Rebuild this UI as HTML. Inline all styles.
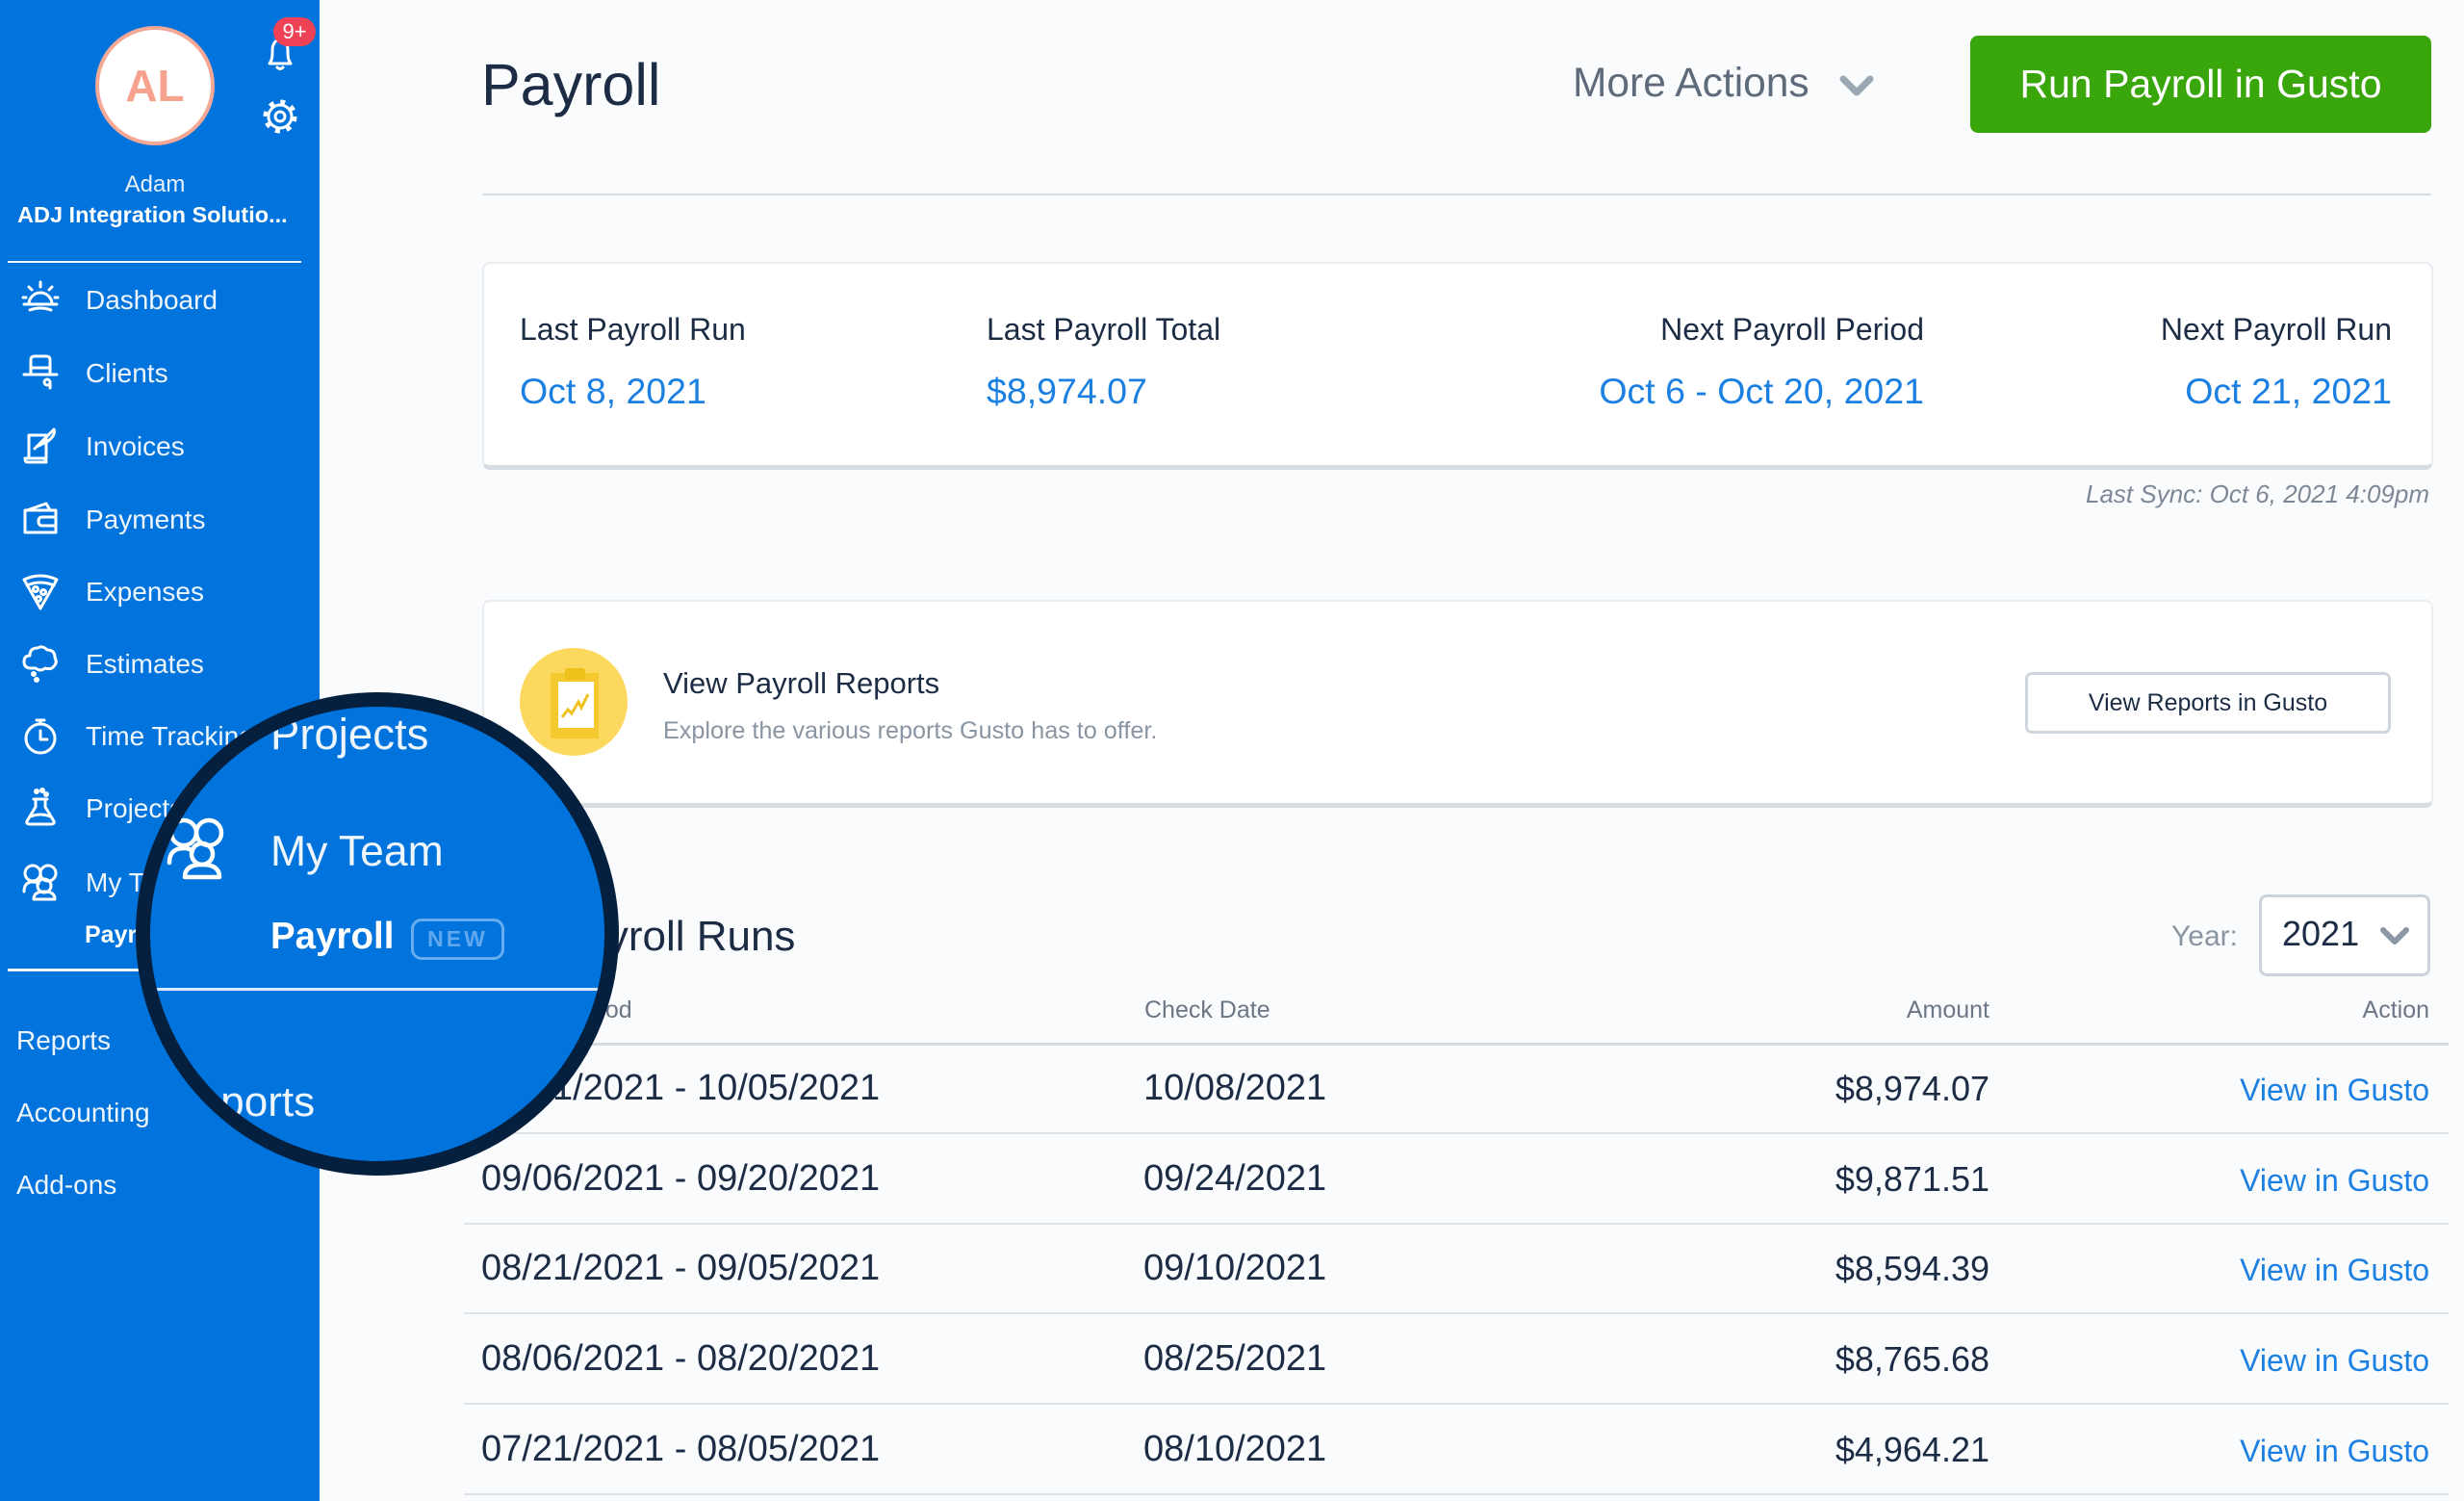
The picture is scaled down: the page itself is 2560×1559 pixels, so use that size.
<!DOCTYPE html>
<html><head><meta charset="utf-8">
<style>
*{margin:0;padding:0;box-sizing:border-box}
html,body{width:2560px;height:1559px;overflow:hidden}
body{background:#fafbfd;font-family:"Liberation Sans",sans-serif;position:relative;color:#1b2c44}
.a{position:absolute;white-space:nowrap;line-height:1}
.nav{font-size:28px;color:#eef5fd;left:89px}
.sub{font-size:28px;color:#eef5fd;left:17px}
.lbl{font-size:32px;color:#1b2c44;top:326px}
.val{font-size:37.5px;color:#1b80e1;top:388px}
.th{font-size:25px;color:#6b7785;top:1037px}
.per{font-size:38px;color:#1b2c44;left:500px}
.dt{font-size:38px;color:#1b2c44;left:1188px}
.amt{font-size:36px;color:#1b2c44;right:493px}
.lnk{font-size:32px;color:#1b80e1;right:36px}
.hl{position:absolute;left:482px;width:2062px;height:2px;background:#dfe3e8}
.card{position:absolute;left:501px;width:2027px;background:#fff;border:2px solid #e9ecf0;border-bottom:5px solid #d6dce2;border-radius:8px}
</style></head>
<body>

<!-- Sidebar -->
<div style="position:absolute;left:0;top:0;width:332px;height:1559px;background:#0074dc"></div>

<!-- avatar -->
<div style="position:absolute;left:99px;top:27px;width:124px;height:124px;border-radius:50%;background:#fff;border:4px solid #f5a896;display:flex;align-items:center;justify-content:center;font-weight:bold;font-size:46px;color:#f6a28f;font-family:'Liberation Sans',sans-serif">AL</div>

<svg style="position:absolute;left:0;top:0" width="332" height="1000" viewBox="0 0 332 1000">
  <g fill="none" stroke="#fff" stroke-width="3" stroke-linecap="round" stroke-linejoin="round">
    <!-- bell -->
    <path d="M280 66 C283 62 283 58 283 52 C283 45 287 41 291 41 C295 41 299 45 299 52 C299 58 299 62 302 66 Z"/>
    <path d="M288 70 Q291 73 294 70"/>
    <!-- gear -->
    <circle cx="291" cy="121" r="12"/>
    <circle cx="291" cy="121" r="5"/>
    <circle cx="291" cy="121" r="15" stroke-width="5" stroke-dasharray="5 6.8" stroke-linecap="butt"/>
    <!-- Dashboard -->
    <g transform="translate(22,290)">
      <path d="M8 26 A12 12 0 0 1 32 26"/><path d="M3 26 H37"/><path d="M9 32 Q20 28 31 32"/>
      <path d="M20 3 V8"/><path d="M8 8 L11 11"/><path d="M32 8 L29 11"/><path d="M2 19 H5"/><path d="M35 19 H38"/>
    </g>
    <!-- Clients -->
    <g transform="translate(22,366)">
      <path d="M10 22 V8 Q10 4 14 4 H26 Q30 4 30 8 V22"/><path d="M3 23 H37"/><path d="M10 16 H30"/>
      <circle cx="27" cy="31" r="3"/><path d="M30 31 V37"/>
    </g>
    <!-- Invoices -->
    <g transform="translate(22,442)">
      <path d="M8 10 H26 V34 H8 Z"/><path d="M4 34 H22 Q26 34 26 38 H6 Q4 38 4 34"/><path d="M14 24 L34 4 Q36 10 28 16 L16 22"/>
    </g>
    <!-- Payments -->
    <g transform="translate(22,518)">
      <path d="M4 12 H36 V35 H4 Z"/><path d="M22 19 H36 V28 H22 Q18 28 18 23.5 Q18 19 22 19"/><path d="M6 12 L26 5 L30 12"/>
    </g>
    <!-- Expenses -->
    <g transform="translate(22,594)">
      <path d="M3 8 Q20 0 37 8 L20 38 Z"/><path d="M6 14 Q20 8 34 14"/><circle cx="15" cy="18" r="2.5"/><circle cx="23" cy="21" r="2.5"/><circle cx="18" cy="28" r="2.5"/>
    </g>
    <!-- Estimates -->
    <g transform="translate(22,668)">
      <path d="M10 26 Q3 26 3 19 Q3 13 9 13 Q9 5 17 5 Q22 2 27 7 Q35 7 35 15 Q38 20 34 24 Q31 28 25 26 Q20 30 15 26 Z"/>
      <circle cx="13" cy="32" r="1.5"/><circle cx="16" cy="38" r="1.5"/>
    </g>
    <!-- Time Tracking -->
    <g transform="translate(22,744)">
      <circle cx="20" cy="23" r="15"/><path d="M16 4 H24"/><path d="M20 4 V8"/><path d="M20 15 V24 H27"/>
    </g>
    <!-- Projects -->
    <g transform="translate(22,818)">
      <path d="M15 12 V20 L6 35 Q5 38 9 38 H31 Q35 38 34 35 L25 20 V12"/><path d="M13 12 H27"/><path d="M10 30 Q20 26 30 30"/>
      <circle cx="16" cy="4" r="1.5"/><circle cx="22" cy="3" r="1.5"/><circle cx="26" cy="7" r="1.5"/>
    </g>
    <!-- My Team -->
    <g transform="translate(22,896)">
      <circle cx="12" cy="11" r="8"/><circle cx="28" cy="11" r="8"/>
      <path d="M3 30 Q3 20 12 20 Q16 20 18 22"/><circle cx="24" cy="24" r="7"/><path d="M13 38 Q13 30 24 30 Q35 30 35 38 Z"/>
    </g>
  </g>
</svg>

<!-- notification badge -->
<div style="position:absolute;left:284px;top:18px;width:44px;height:30px;border-radius:15px;background:#ef4257;color:#fff;font-size:22px;line-height:30px;text-align:center">9+</div>

<div class="a" style="left:0;width:322px;text-align:center;top:180px;font-size:24px;color:#e8f1fc">Adam</div>
<div class="a" style="left:18px;top:212px;font-size:23.5px;font-weight:bold;color:#fff">ADJ Integration Solutio...</div>
<div style="position:absolute;left:8px;top:271px;width:305px;height:2px;background:#f2f7fd"></div>

<div class="a nav" style="top:298px">Dashboard</div>
<div class="a nav" style="top:374px">Clients</div>
<div class="a nav" style="top:450px">Invoices</div>
<div class="a nav" style="top:526px">Payments</div>
<div class="a nav" style="top:601px">Expenses</div>
<div class="a nav" style="top:676px">Estimates</div>
<div class="a nav" style="top:751px">Time Tracking</div>
<div class="a nav" style="top:826px">Projects</div>
<div class="a nav" style="top:903px">My Team</div>
<div class="a" style="left:88px;top:959px;font-size:25px;font-weight:bold;color:#fff">Payroll</div>
<div style="position:absolute;left:8px;top:1006px;width:305px;height:3px;background:#f2f7fd"></div>
<div class="a sub" style="top:1067px">Reports</div>
<div class="a sub" style="top:1142px">Accounting</div>
<div class="a sub" style="top:1217px">Add-ons</div>

<!-- Header -->
<div class="a" style="left:500px;top:58px;font-size:61px;color:#1b2c44">Payroll</div>
<div class="a" style="left:1634px;top:66px;font-size:42.5px;color:#5e6b7a">More Actions</div>
<svg style="position:absolute;left:1905px;top:74px" width="50" height="32"><polyline points="10,8 24,22 38,8" fill="none" stroke="#9ba7b3" stroke-width="7" stroke-linecap="round" stroke-linejoin="round"/></svg>
<div style="position:absolute;left:2047px;top:37px;width:479px;height:101px;border-radius:8px;background:#39a60b;color:#fff;font-size:41px;line-height:101px;text-align:center">Run Payroll in Gusto</div>
<div style="position:absolute;left:501px;top:201px;width:2025px;height:2px;background:#d8dde3"></div>

<!-- Summary card -->
<div class="card" style="top:272px;height:216px"></div>
<div class="a lbl" style="left:540px">Last Payroll Run</div>
<div class="a lbl" style="left:1025px">Last Payroll Total</div>
<div class="a lbl" style="right:561px">Next Payroll Period</div>
<div class="a lbl" style="right:75px">Next Payroll Run</div>
<div class="a val" style="left:540px">Oct 8, 2021</div>
<div class="a val" style="left:1025px">$8,974.07</div>
<div class="a val" style="right:561px">Oct 6 - Oct 20, 2021</div>
<div class="a val" style="right:75px">Oct 21, 2021</div>
<div class="a" style="right:36px;top:500px;font-size:26px;font-style:italic;color:#7d8896">Last Sync: Oct 6, 2021 4:09pm</div>

<!-- Reports card -->
<div class="card" style="top:623px;height:216px"></div>
<svg style="position:absolute;left:540px;top:673px" width="112" height="112" viewBox="0 0 112 112">
  <circle cx="56" cy="56" r="56" fill="#fcd95e"/>
  <rect x="32" y="26" width="50" height="68" fill="#f3c92e"/>
  <rect x="40" y="35" width="37" height="48" fill="#fff"/>
  <rect x="47" y="21" width="21" height="12" rx="3" fill="#eec01a"/>
  <polyline points="44,72 50,64 54,68 61,56 64,62 71,48" fill="none" stroke="#f0c11d" stroke-width="3"/>
</svg>
<div class="a" style="left:689px;top:694px;font-size:31px;color:#1b2c44">View Payroll Reports</div>
<div class="a" style="left:689px;top:747px;font-size:25.2px;color:#8995a3">Explore the various reports Gusto has to offer.</div>
<div style="position:absolute;left:2104px;top:698px;width:380px;height:64px;border:3px solid #d0d6dd;border-radius:7px;background:#fff;font-size:25px;line-height:58px;text-align:center;color:#1b2c44">View Reports in Gusto</div>

<!-- Payroll runs -->
<div class="a" style="left:577px;top:951px;font-size:44px;color:#1b2c44">Payroll Runs</div>
<div class="a" style="right:235px;top:958px;font-size:30px;color:#8a95a2">Year:</div>
<div style="position:absolute;left:2347px;top:929px;width:178px;height:85px;border:3px solid #ccd3da;border-radius:8px;background:#fff"></div>
<div class="a" style="left:2371px;top:952px;font-size:36px;color:#1b2c44">2021</div>
<svg style="position:absolute;left:2468px;top:958px" width="40" height="30"><polyline points="8,8 20,20 32,8" fill="none" stroke="#8c97a3" stroke-width="6" stroke-linecap="round" stroke-linejoin="round"/></svg>

<div class="a th" style="left:501px">Payroll Period</div>
<div class="a th" style="left:1189px">Check Date</div>
<div class="a th" style="right:493px">Amount</div>
<div class="a th" style="right:36px">Action</div>
<div class="hl" style="top:1083px;height:3px;background:#d5dbe1"></div>

<div class="a per" style="top:1111px">09/21/2021 - 10/05/2021</div>
<div class="a dt" style="top:1111px">10/08/2021</div>
<div class="a amt" style="top:1113px">$8,974.07</div>
<div class="a lnk" style="top:1116px">View in Gusto</div>
<div class="hl" style="top:1176px"></div>

<div class="a per" style="top:1205px">09/06/2021 - 09/20/2021</div>
<div class="a dt" style="top:1205px">09/24/2021</div>
<div class="a amt" style="top:1207px">$9,871.51</div>
<div class="a lnk" style="top:1210px">View in Gusto</div>
<div class="hl" style="top:1270px"></div>

<div class="a per" style="top:1298px">08/21/2021 - 09/05/2021</div>
<div class="a dt" style="top:1298px">09/10/2021</div>
<div class="a amt" style="top:1300px">$8,594.39</div>
<div class="a lnk" style="top:1303px">View in Gusto</div>
<div class="hl" style="top:1363px"></div>

<div class="a per" style="top:1392px">08/06/2021 - 08/20/2021</div>
<div class="a dt" style="top:1392px">08/25/2021</div>
<div class="a amt" style="top:1394px">$8,765.68</div>
<div class="a lnk" style="top:1397px">View in Gusto</div>
<div class="hl" style="top:1457px"></div>

<div class="a per" style="top:1486px">07/21/2021 - 08/05/2021</div>
<div class="a dt" style="top:1486px">08/10/2021</div>
<div class="a amt" style="top:1488px">$4,964.21</div>
<div class="a lnk" style="top:1491px">View in Gusto</div>
<div class="hl" style="top:1551px"></div>

<!-- Magnifier -->
<div style="position:absolute;left:141px;top:719px;width:502px;height:502px;border-radius:50%;border:15px solid #05203f;background:#0074dc;overflow:hidden">
  <div style="position:absolute;left:-156px;top:-734px;width:1000px;height:1600px">
    <div class="a" style="left:281px;top:740px;font-size:45.5px;color:#eef5fd">Projects</div>
    <svg style="position:absolute;left:170px;top:848px" width="80" height="70" viewBox="0 0 80 70">
      <g fill="none" stroke="#fff" stroke-width="4.5" stroke-linecap="round" stroke-linejoin="round">
        <circle cx="21" cy="17" r="13"/><circle cx="47" cy="17" r="13"/>
        <path d="M6 48 Q6 33 21 33 Q27 33 30 36"/><circle cx="40" cy="39" r="11"/><path d="M22 63 Q22 50 40 50 Q58 50 58 63 Z"/>
      </g>
    </svg>
    <div class="a" style="left:281px;top:863px;font-size:44.5px;color:#eef5fd">My Team</div>
    <div class="a" style="left:281px;top:954px;font-size:38.5px;font-weight:bold;color:#fff">Payroll</div>
    <div style="position:absolute;left:427px;top:954px;width:97px;height:43px;border:3px solid rgba(160,205,250,0.65);border-radius:11px;color:#62a8ef;font-weight:bold;font-size:23px;line-height:37px;text-align:center;letter-spacing:3px">NEW</div>
    <div style="position:absolute;left:0;top:1026px;width:800px;height:3px;background:#d6e8fb"></div>
    <div class="a" style="left:173px;top:1123px;font-size:44px;color:#eef5fd">Reports</div>
  </div>
</div>

</body></html>
